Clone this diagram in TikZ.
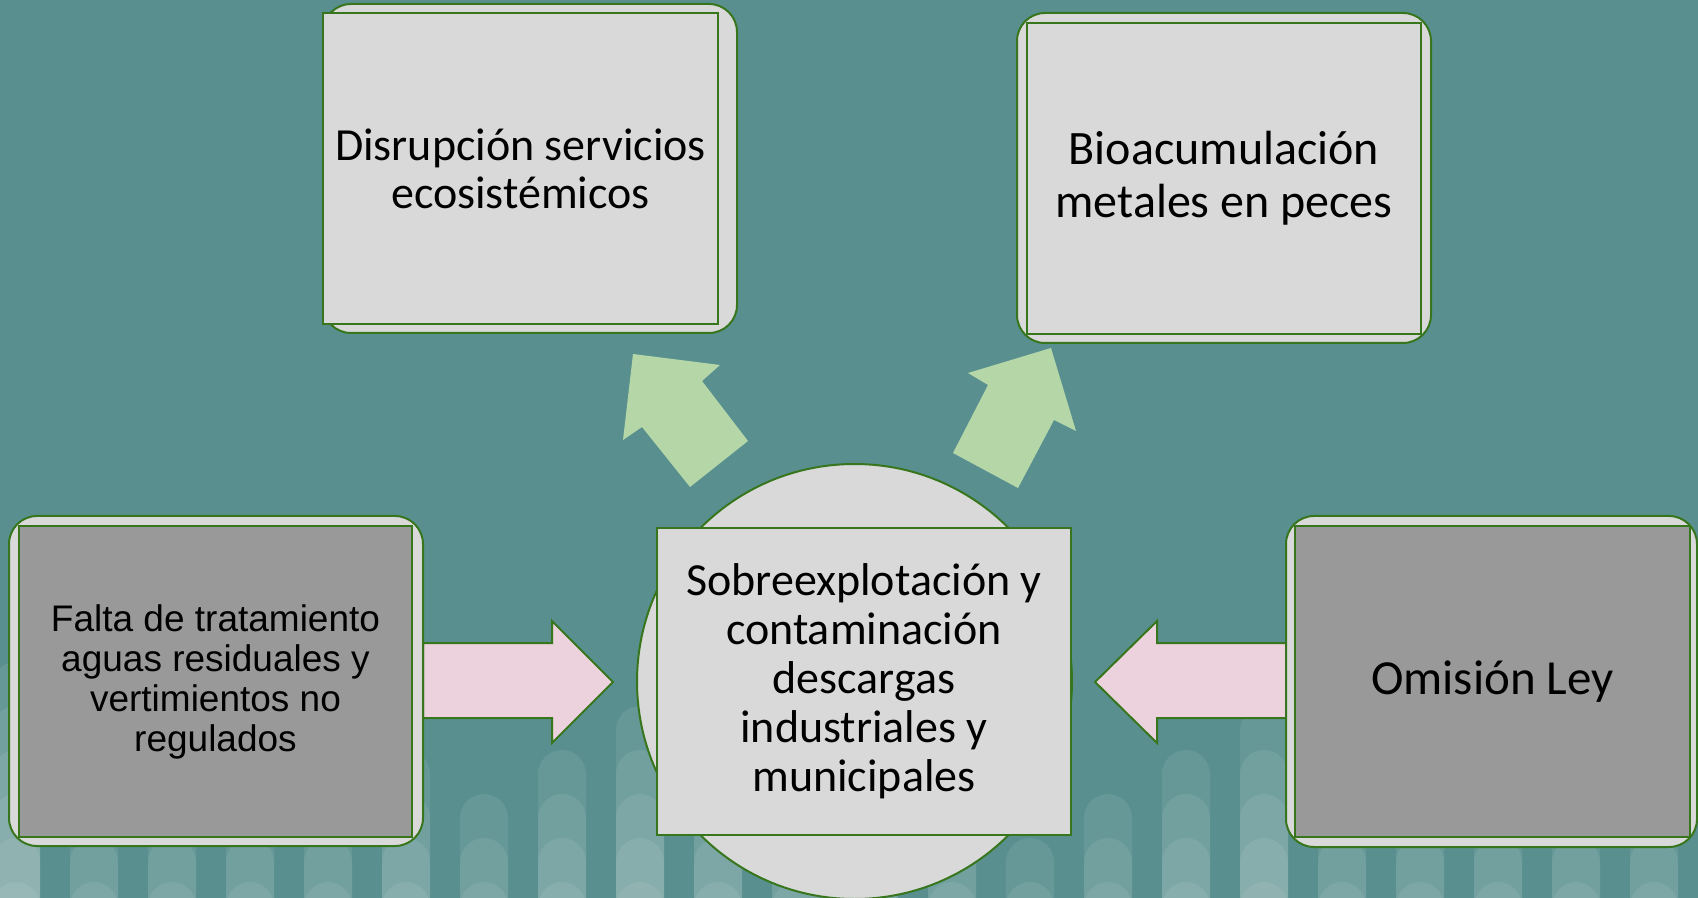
\documentclass[tikz,border=0pt]{standalone}
\usepackage{fontspec}
\setmainfont{Carlito}
\newfontfamily\arialf{Liberation Sans}
\definecolor{bgteal}{RGB}{89,144,143}
\definecolor{lgray}{RGB}{217,217,217}
\definecolor{dgray}{RGB}{153,153,153}
\definecolor{olgreen}{RGB}{56,118,29}
\definecolor{pinkf}{RGB}{236,210,220}
\definecolor{lgreen}{RGB}{181,215,168}
\begin{document}
\begin{tikzpicture}[x=0.5pt,y=-0.5pt,
  outerbox/.style={draw=olgreen, line width=1pt, fill=lgray, rounded corners=14pt, inner sep=0pt},
  innerbox/.style={draw=olgreen, line width=0.8pt, inner sep=0pt, align=center, text=black},
  stripe/.style={fill=white, fill opacity=0.08, rounded corners=12pt},
  pinkarrow/.style={draw=olgreen, line width=1pt, fill=pinkf, line join=miter},
  greenarrow/.style={fill=lgreen}]
\useasboundingbox (0,0) rectangle (1698,898);
\clip (0,0) rectangle (1698,898);
\fill[bgteal] (0,0) rectangle (1698,898);
% background stripes
\foreach \c/\n in {0/6,1/3,2/3,3/3,4/3,5/4,6/3,7/4,8/5,9/4,10/3,11/3,12/3,13/2,14/3,15/4,16/5,17/3,18/3,19/3,20/3,21/3}{
  \foreach \k in {1,...,\n}{
    \fill[stripe] ({-8+78*\c},960) rectangle ({40+78*\c},{882-44*(\k-1)});
  }
}
% green arrows
\fill[greenarrow] (633,354) -- (720,365) -- (702,381) -- (748,441) -- (690,487) -- (642,427) -- (623,440) -- cycle;
\fill[greenarrow] (1051,348) -- (1076,431) -- (1054,420) -- (1018,488) -- (953,453) -- (988,385) -- (968,373) -- cycle;
% centre
\node[circle, draw=olgreen, line width=1pt, fill=lgray, minimum size=217.5pt, inner sep=0pt] (circ) at (854.5,681.5) {};
\node[innerbox, fill=lgray, minimum width=207pt, minimum height=153.5pt, font=\fontsize{23pt}{24.5pt}\selectfont] (centre) at (864,681.5)
  {Sobreexplotación y\\ contaminación\\ descargas\\ industriales y\\ municipales};
% pink arrows
\draw[pinkarrow] (423,643) -- (552,643) -- (552,621) -- (613,682) -- (552,743) -- (552,718) -- (423,718) -- cycle;
\draw[pinkarrow] (1286,643) -- (1157,643) -- (1157,621) -- (1095,682) -- (1157,743) -- (1157,718) -- (1286,718) -- cycle;
% top-left box
\node[outerbox, minimum width=207pt, minimum height=164.5pt] (disR) at (530,168.5) {};
\node[innerbox, fill=lgray, minimum width=197.5pt, minimum height=155.5pt, font=\fontsize{23pt}{24pt}\selectfont] (dis) at (520.5,168.5)
  {Disrupción servicios\\ ecosistémicos};
% top-right box
\node[outerbox, minimum width=207pt, minimum height=165pt] (bioR) at (1224,178) {};
\node[innerbox, fill=lgray, minimum width=197pt, minimum height=155.5pt, font=\fontsize{24pt}{26.5pt}\selectfont] (bio) at (1224,178.5)
  {Bioacumulación\\ metales en peces};
% left box
\node[outerbox, minimum width=207pt, minimum height=165pt] (faltaR) at (216,681) {};
\node[innerbox, fill=dgray, minimum width=196.5pt, minimum height=155.5pt, font=\arialf\fontsize{18.5pt}{20pt}\selectfont] (falta) at (215.5,681.5)
  {Falta de tratamiento\\ aguas residuales y\\ vertimientos no\\ regulados};
% right box
\node[outerbox, minimum width=205.5pt, minimum height=165.5pt] (omiR) at (1491.5,681.5) {};
\node[innerbox, fill=dgray, minimum width=197.5pt, minimum height=155.5pt, font=\fontsize{24.5pt}{26pt}\selectfont] (omi) at (1492.5,681.5)
  {Omisión Ley};
\end{tikzpicture}
\end{document}
